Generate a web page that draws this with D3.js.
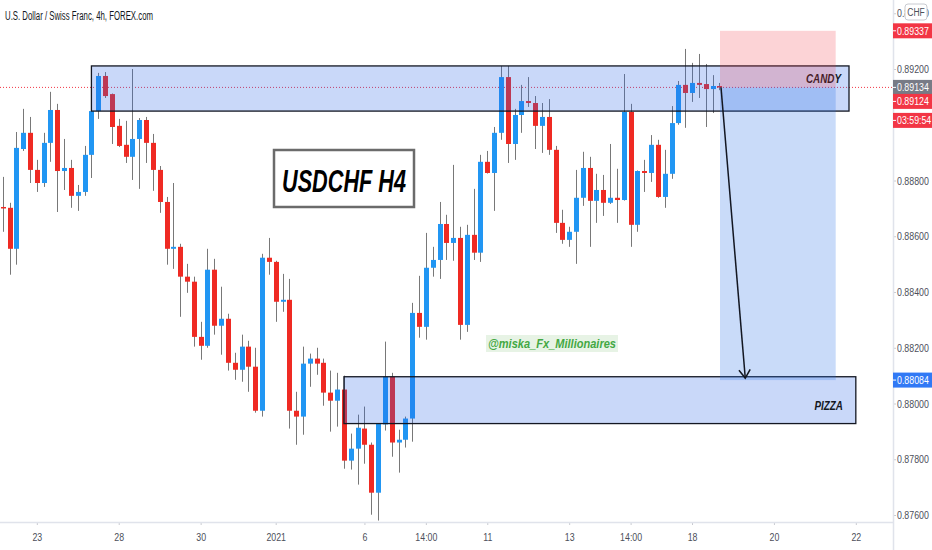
<!DOCTYPE html>
<html><head><meta charset="utf-8">
<script src="https://cdn.jsdelivr.net/npm/d3@7"></script>
<style>
html,body{margin:0;padding:0;background:#fff;}
svg{display:block;font-family:"Liberation Sans","Arial",sans-serif;}
</style></head><body>
<svg id="c" width="932" height="550"></svg>
<script>
// ---------- data ----------
const opens  = [0.88705,0.88702,0.88555,0.88913,0.88971,0.88838,0.88791,0.88935,0.89053,0.88834,0.88845,0.88745,0.88759,0.88892,0.89049,0.89175,0.89110,0.88996,0.88928,0.88885,0.88949,0.89017,0.88935,0.88838,0.88723,0.88555,0.88562,0.88455,0.88437,0.88239,0.88207,0.88480,0.88279,0.88304,0.88146,0.88121,0.88204,0.88132,0.87974,0.88523,0.88508,0.88365,0.88372,0.87974,0.87953,0.88143,0.88161,0.88146,0.88039,0.88010,0.88050,0.87795,0.87838,0.87910,0.87852,0.87680,0.87925,0.88096,0.87860,0.87870,0.87946,0.88325,0.88275,0.88487,0.88515,0.88644,0.88576,0.88594,0.88282,0.88605,0.88541,0.88867,0.88827,0.88971,0.89171,0.88931,0.89035,0.89085,0.89078,0.88996,0.89028,0.88910,0.88648,0.88587,0.88616,0.88738,0.88845,0.88727,0.88766,0.88720,0.88738,0.88730,0.89046,0.88641,0.88834,0.88827,0.88928,0.88741,0.88824,0.89006,0.89143,0.89114,0.89150,0.89146,0.89128,0.89139];
const highs  = [0.88813,0.88720,0.88974,0.89057,0.89028,0.88874,0.88971,0.89118,0.89075,0.88949,0.88874,0.88784,0.88924,0.89055,0.89186,0.89189,0.89112,0.89021,0.89014,0.89200,0.89024,0.89028,0.88967,0.88852,0.88741,0.88791,0.88573,0.88501,0.88455,0.88293,0.88555,0.88519,0.88419,0.88322,0.88182,0.88247,0.88225,0.88200,0.88537,0.88594,0.88512,0.88465,0.88447,0.88042,0.88204,0.88179,0.88200,0.88161,0.88118,0.88110,0.88100,0.87892,0.87960,0.87989,0.87860,0.87930,0.88222,0.88110,0.87906,0.87953,0.88361,0.88458,0.88612,0.88562,0.88723,0.88677,0.88856,0.88634,0.88641,0.88770,0.88892,0.88906,0.88992,0.89211,0.89211,0.89057,0.89143,0.89171,0.89103,0.89078,0.89092,0.88924,0.88695,0.88634,0.88838,0.88903,0.88885,0.88824,0.88820,0.88931,0.88842,0.89182,0.89075,0.88836,0.88874,0.88963,0.88946,0.88910,0.89067,0.89157,0.89272,0.89222,0.89254,0.89218,0.89178,0.89150];
const lows   = [0.88616,0.88462,0.88498,0.88906,0.88791,0.88759,0.88777,0.88867,0.88687,0.88766,0.88702,0.88691,0.88745,0.88809,0.89021,0.89096,0.88931,0.88920,0.88863,0.88802,0.88770,0.88863,0.88763,0.88684,0.88498,0.88483,0.88311,0.88397,0.88204,0.88157,0.88200,0.88247,0.88175,0.88118,0.88085,0.88078,0.88042,0.87967,0.87953,0.88462,0.88293,0.88329,0.87910,0.87852,0.87888,0.88060,0.88103,0.87992,0.87899,0.87917,0.87766,0.87763,0.87709,0.87784,0.87601,0.87580,0.87903,0.87809,0.87752,0.87842,0.87863,0.88236,0.88229,0.88455,0.88447,0.88515,0.88512,0.88229,0.88257,0.88515,0.88508,0.88825,0.88691,0.88946,0.88863,0.88874,0.88971,0.89064,0.88913,0.88899,0.88892,0.88612,0.88573,0.88562,0.88501,0.88709,0.88562,0.88648,0.88673,0.88716,0.88648,0.88728,0.88562,0.88616,0.88759,0.88795,0.88738,0.88702,0.88806,0.89000,0.88989,0.89082,0.89096,0.88992,0.89042,0.89124];
const closes = [0.88702,0.88555,0.88917,0.88971,0.88838,0.88791,0.88935,0.89053,0.88834,0.88845,0.88745,0.88759,0.88892,0.89049,0.89175,0.89103,0.88992,0.88924,0.88885,0.88949,0.89017,0.88935,0.88838,0.88723,0.88555,0.88562,0.88455,0.88437,0.88239,0.88207,0.88480,0.88279,0.88304,0.88146,0.88121,0.88204,0.88132,0.87974,0.88523,0.88508,0.88365,0.88372,0.87974,0.87953,0.88143,0.88161,0.88143,0.88039,0.88010,0.88050,0.87795,0.87838,0.87913,0.87852,0.87680,0.87928,0.88096,0.87860,0.87870,0.87946,0.88325,0.88275,0.88487,0.88515,0.88644,0.88576,0.88594,0.88282,0.88605,0.88541,0.88867,0.88827,0.88971,0.89171,0.88931,0.89035,0.89085,0.89078,0.88996,0.89028,0.88910,0.88648,0.88587,0.88616,0.88738,0.88845,0.88727,0.88766,0.88720,0.88738,0.88730,0.89046,0.88641,0.88834,0.88827,0.88928,0.88741,0.88824,0.89006,0.89143,0.89114,0.89150,0.89143,0.89128,0.89139,0.89134];

const xTickIdx    = [5,17,29,40,53,62,71,83,92,101,113,125];
const xTickLabels = ["23","28","30","2021","6","14:00","11","13","14:00","18","20","22"];
const yTickValues = [0.876,0.878,0.880,0.882,0.884,0.886,0.888,0.892,0.894];

const zoneNames = ["CANDY","PIZZA"];
const zoneStart = [13,50];
const zoneEnd   = [124,125];
const zoneHigh  = [0.89211,0.88096];
const zoneLow   = [0.89049,0.87928];

const posStart = 105.1, posEnd = 122.05, arrowEndIdx = 108.8;
const lastPrice = 0.89134, bidPrice = 0.89124, stopPrice = 0.89337, targetPrice = 0.88084;
const countdown = "03:59:54";

// ---------- chart ----------
const UP = "#2196f3", DOWN = "#ef2a23", WICK = "#787878";
const svg = d3.select("#c");
const plotRight = 893, axisY = 522;
const x = d3.scaleLinear().domain([0,125]).range([2.7, 2.7 + 125*6.825]);
const y = d3.scaleLinear().domain([0.876,0.892]).range([515,69]);
const fmt = d3.format(".5f");

function squeeze(sel, f){
  sel.each(function(){
    const w = this.getComputedTextLength();
    d3.select(this).attr("textLength", w*f).attr("lengthAdjust","spacingAndGlyphs");
  });
}

svg.append("defs").append("clipPath").attr("id","plot")
  .append("rect").attr("x",0).attr("y",0).attr("width",plotRight).attr("height",axisY);
const g = svg.append("g").attr("clip-path","url(#plot)");

const candles = opens.map((o,i)=>({i, o, h:highs[i], l:lows[i], c:closes[i]}));

// dotted last price line
g.append("line").attr("x1",0).attr("x2",plotRight).attr("y1",y(lastPrice)).attr("y2",y(lastPrice))
  .attr("stroke","#f23645").attr("stroke-width",1).attr("stroke-dasharray","1,2");

g.selectAll("line.wick").data(candles).join("line").attr("class","wick")
  .attr("x1",d=>Math.round(x(d.i))+0.5).attr("x2",d=>Math.round(x(d.i))+0.5)
  .attr("y1",d=>y(d.h)).attr("y2",d=>y(d.l))
  .attr("stroke",WICK).attr("stroke-width",1);

g.selectAll("rect.body").data(candles).join("rect").attr("class","body")
  .attr("x",d=>Math.round(x(d.i))-2).attr("width",5)
  .attr("y",d=>y(Math.max(d.o,d.c)))
  .attr("height",d=>Math.max(1.5, Math.abs(y(d.o)-y(d.c))))
  .attr("fill",d=>d.c>=d.o?UP:DOWN);

// zones
zoneNames.forEach((name,k)=>{
  g.append("rect")
    .attr("x",x(zoneStart[k])).attr("width",x(zoneEnd[k])-x(zoneStart[k]))
    .attr("y",y(zoneHigh[k])).attr("height",y(zoneLow[k])-y(zoneHigh[k]))
    .attr("fill","rgba(41,98,230,0.25)").attr("stroke","#131722").attr("stroke-width",1.3);
});
const zl1 = g.append("text").attr("x",x(zoneEnd[0])-8).attr("y",y(zoneHigh[0])+17)
  .attr("text-anchor","end").attr("font-size",12).attr("font-weight","bold").attr("font-style","italic")
  .attr("fill","#131722").text(zoneNames[0]);
const zl2 = g.append("text").attr("x",x(zoneEnd[1])-13).attr("y",y(zoneHigh[1])+33)
  .attr("text-anchor","end").attr("font-size",12).attr("font-weight","bold").attr("font-style","italic")
  .attr("fill","#131722").text(zoneNames[1]);
squeeze(zl1,0.82); squeeze(zl2,0.82);

// position tool
g.append("rect").attr("x",x(posStart)).attr("width",x(posEnd)-x(posStart))
  .attr("y",y(stopPrice)).attr("height",y(lastPrice)-y(stopPrice))
  .attr("fill","rgba(242,54,69,0.22)");
g.append("rect").attr("x",x(posStart)).attr("width",x(posEnd)-x(posStart))
  .attr("y",y(lastPrice)).attr("height",y(targetPrice)-y(lastPrice))
  .attr("fill","rgba(41,110,230,0.25)");

// arrow
const ax1 = x(posStart)+1, ay1 = y(lastPrice), ax2 = x(arrowEndIdx), ay2 = y(targetPrice)-2;
g.append("line").attr("x1",ax1).attr("y1",ay1).attr("x2",ax2).attr("y2",ay2)
  .attr("stroke","#131722").attr("stroke-width",1.5);
const ang = Math.atan2(ay2-ay1, ax2-ax1), al = 10, spread = 0.6;
g.append("path").attr("d",
  `M${ax2-al*Math.cos(ang-spread)},${ay2-al*Math.sin(ang-spread)}L${ax2},${ay2}L${ax2-al*Math.cos(ang+spread)},${ay2-al*Math.sin(ang+spread)}`)
  .attr("fill","none").attr("stroke","#131722").attr("stroke-width",1.5);

// USDCHF H4 box
svg.append("rect").attr("x",274).attr("y",150).attr("width",140).attr("height",57)
  .attr("fill","#fff").attr("stroke","#6b6b6b").attr("stroke-width",2.5);
svg.append("text").attr("x",344).attr("y",192).attr("text-anchor","middle")
  .attr("font-size",32).attr("font-weight","bold").attr("font-style","italic")
  .attr("textLength",124).attr("lengthAdjust","spacingAndGlyphs")
  .attr("fill","#000").text("USDCHF H4");

// watermark
svg.append("rect").attr("x",486).attr("y",335).attr("width",132).attr("height",17).attr("fill","#e7f3e5");
svg.append("text").attr("x",552).attr("y",348).attr("text-anchor","middle")
  .attr("font-size",12).attr("font-weight","bold").attr("font-style","italic")
  .attr("textLength",128).attr("lengthAdjust","spacingAndGlyphs")
  .attr("fill","#43a843").text("@miska_Fx_Millionaires");

// title
svg.append("text").attr("x",5).attr("y",20).attr("font-size",12)
  .attr("textLength",148).attr("lengthAdjust","spacingAndGlyphs")
  .attr("fill","#131722").text("U.S. Dollar / Swiss Franc, 4h, FOREX.com");

// axes
const yAxis = d3.axisRight(y).tickValues(yTickValues).tickFormat(fmt).tickSize(3).tickPadding(1);
const ya = svg.append("g").attr("transform",`translate(${plotRight},0)`).call(yAxis);
ya.select(".domain").remove();
ya.selectAll(".tick line").attr("stroke","#c8cad0");
ya.selectAll(".tick text").attr("font-size",11).attr("fill","#4c4f5a").attr("font-family","'Liberation Sans',Arial,sans-serif");
squeeze(ya.selectAll(".tick text"),0.8);
svg.append("line").attr("x1",plotRight+0.5).attr("x2",plotRight+0.5).attr("y1",0).attr("y2",550)
  .attr("stroke","#e0e3eb").attr("stroke-width",1.5);

const xAxis = d3.axisBottom(x).tickValues(xTickIdx).tickFormat((d,i)=>xTickLabels[i]).tickSize(3).tickPadding(8);
const xa = svg.append("g").attr("transform",`translate(0,${axisY})`).call(xAxis);
xa.select(".domain").remove();
xa.selectAll(".tick line").attr("stroke","#c8cad0");
xa.selectAll(".tick text").attr("font-size",11).attr("fill","#4c4f5a").attr("font-family","'Liberation Sans',Arial,sans-serif");
squeeze(xa.selectAll(".tick text"),0.8);
svg.append("line").attr("x1",0).attr("x2",plotRight).attr("y1",axisY+0.5).attr("y2",axisY+0.5)
  .attr("stroke","#e0e3eb").attr("stroke-width",1.5);

// price labels on axis
function priceLabel(cy, txt, bg){
  const gg = svg.append("g");
  gg.append("rect").attr("x",plotRight).attr("y",cy-7.5).attr("width",932-plotRight).attr("height",15).attr("fill",bg);
  gg.append("line").attr("x1",plotRight).attr("x2",plotRight+3).attr("y1",cy).attr("y2",cy).attr("stroke","#fff");
  const t = gg.append("text").attr("x",plotRight+4).attr("y",cy+4).attr("font-size",11).attr("fill","#fff").text(txt);
  squeeze(t,0.8);
}
priceLabel(y(stopPrice), fmt(stopPrice), "#f23645");
priceLabel(y(lastPrice), fmt(lastPrice), "#787b86");
priceLabel(y(lastPrice)+14, fmt(bidPrice), "#f23645");
priceLabel(y(lastPrice)+33, countdown, "#f23645");
priceLabel(y(targetPrice), fmt(targetPrice), "#3179f5");

// currency badge
svg.append("rect").attr("x",905).attr("y",4).attr("width",22).attr("height",16).attr("rx",3)
  .attr("fill","#fff").attr("stroke","#c8cad0");
const cb = svg.append("text").attr("x",916).attr("y",16).attr("text-anchor","middle").attr("font-size",10)
  .attr("fill","#4c4f5a").text("CHF");
squeeze(cb,0.85);
</script>
</body></html>
